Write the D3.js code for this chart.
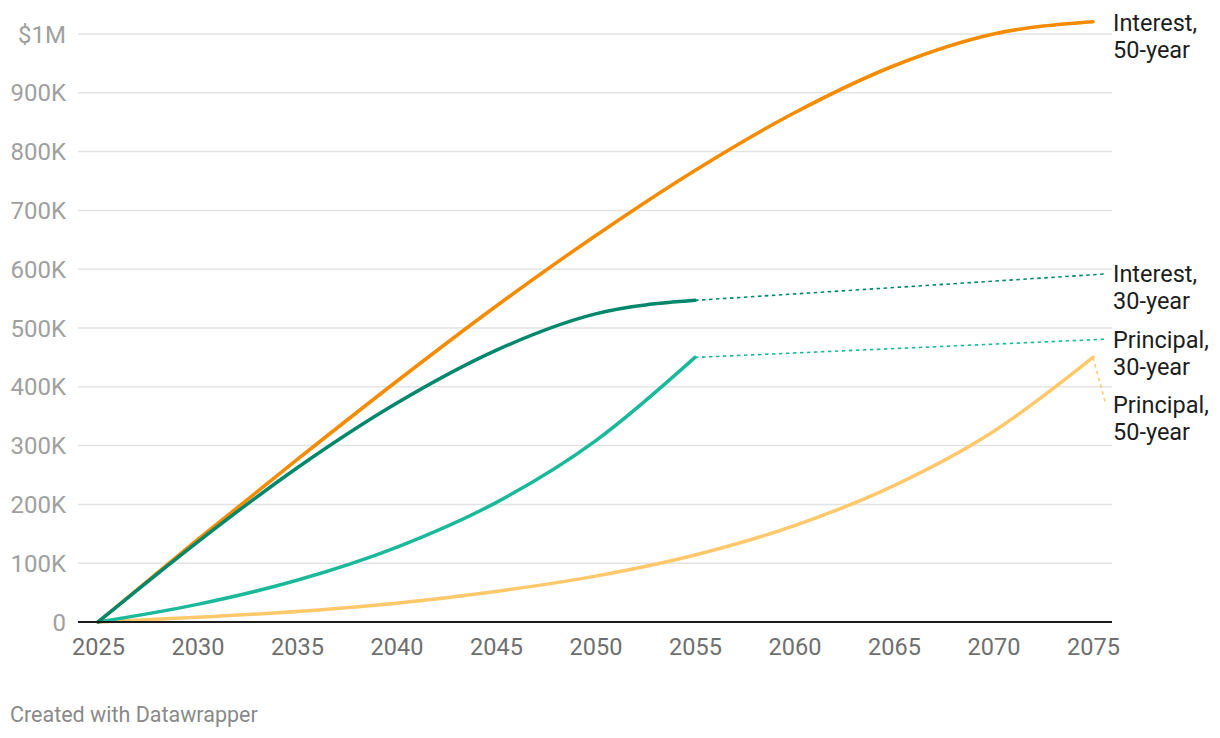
<!DOCTYPE html>
<html>
<head>
<meta charset="utf-8">
<script src="https://cdn.jsdelivr.net/npm/d3@7"></script>
<style>
  body { margin: 0; background: #fff; font-family: Roboto, "Noto Sans", sans-serif; }
  svg { display: block; }
</style>
</head>
<body>
<svg id="chart" width="1220" height="738"></svg>
<script>
// values in $ thousands
const years30 = [2025, 2030, 2035, 2040, 2045, 2050, 2055];
const years50 = [2025, 2030, 2035, 2040, 2045, 2050, 2055, 2060, 2065, 2070, 2075];

const interest30 = [0, 136, 262, 372, 462, 524, 547];
const principal30 = [0, 30, 71, 127, 203, 308, 450];
const interest50 = [0, 140, 276, 409, 537, 657, 768, 866, 946, 1000, 1021];
const principal50 = [0, 8, 18, 32, 52, 78, 114, 164, 232, 324, 450];

const yTicks = [0, 100, 200, 300, 400, 500, 600, 700, 800, 900, 1000];
const yTickLabels = ["0", "100K", "200K", "300K", "400K", "500K", "600K", "700K", "800K", "900K", "$1M"];
const xTicks = [2025, 2030, 2035, 2040, 2045, 2050, 2055, 2060, 2065, 2070, 2075];

// label value (first line) for each series, in $ thousands
const series = [
  { name: ["Interest,", "50-year"], years: years50, values: interest50, color: "#f48b00", label: 1020 },
  { name: ["Interest,", "30-year"], years: years30, values: interest30, color: "#00876c", label: 592 },
  { name: ["Principal,", "30-year"], years: years30, values: principal30, color: "#1bb99a", label: 481 },
  { name: ["Principal,", "50-year"], years: years50, values: principal50, color: "#ffc86b", label: 369 },
];

const svg = d3.select("#chart");
const x = d3.scaleLinear().domain([2025, 2075]).range([98, 1093]);
const y = d3.scaleLinear().domain([0, 1000]).range([622, 34]);
const gridLeft = 78, gridRight = 1112, labelX = 1113, connEnd = 1106;

// gridlines
svg.append("g").selectAll("line")
  .data(yTicks.filter(d => d > 0))
  .enter().append("line")
    .attr("x1", gridLeft).attr("x2", gridRight)
    .attr("y1", d => y(d)).attr("y2", d => y(d))
    .attr("stroke", "#e3e3e3").attr("stroke-width", 1.5);

// y labels
svg.append("g").selectAll("text")
  .data(yTicks)
  .enter().append("text")
    .attr("x", 66).attr("y", d => y(d))
    .attr("dy", "0.36em")
    .attr("text-anchor", "end")
    .attr("font-size", 24)
    .attr("fill", "#a0a0a0")
    .text((d, i) => yTickLabels[i]);

// x axis
const xAxis = svg.append("g")
  .attr("transform", `translate(0,${y(0)})`)
  .call(d3.axisBottom(x).tickValues(xTicks).tickFormat(d3.format("d")).tickSize(0).tickPadding(16));
xAxis.select(".domain").remove();
xAxis.selectAll("text")
  .attr("font-family", "Roboto, sans-serif")
  .attr("font-size", 23.5)
  .attr("fill", "#6f6f6f");

const line = d3.line()
  .x(d => x(d[0]))
  .y(d => y(d[1]))
  .curve(d3.curveMonotoneX);

// series draw order: light ones first
const order = [3, 2, 0, 1];
order.forEach(i => {
  const s = series[i];
  const pts = s.years.map((yr, j) => [yr, s.values[j]]);
  svg.append("path")
    .datum(pts)
    .attr("d", line)
    .attr("fill", "none")
    .attr("stroke", s.color)
    .attr("stroke-width", 3.5)
    .attr("stroke-linejoin", "round")
    .attr("stroke-linecap", "round");

  // dotted connector from line end to label
  const last = pts[pts.length - 1];
  const lx = x(last[0]), ly = y(last[1]);
  if (Math.abs(ly - y(s.label)) > 3 || lx < connEnd - 20) {
    svg.append("line")
      .attr("x1", lx).attr("y1", ly)
      .attr("x2", connEnd).attr("y2", y(s.label))
      .attr("stroke", s.color)
      .attr("stroke-width", 1.6)
      .attr("stroke-dasharray", "3.5,3.5");
  }

  const t = svg.append("text")
    .attr("x", labelX).attr("y", y(s.label))
    .attr("font-size", 23.5)
    .attr("fill", "#1d1d1d");
  s.name.forEach((nm, k) => {
    t.append("tspan")
      .attr("x", labelX)
      .attr("dy", k === 0 ? "0.36em" : 27)
      .text(nm);
  });
});

// baseline
svg.append("line")
  .attr("x1", gridLeft).attr("x2", gridRight)
  .attr("y1", y(0)).attr("y2", y(0))
  .attr("stroke", "#1a1a1a").attr("stroke-width", 2);

svg.append("text")
  .attr("x", 10).attr("y", 722)
  .attr("font-size", 21.5)
  .attr("fill", "#8a8a8a")
  .text("Created with Datawrapper");
</script>
</body>
</html>
